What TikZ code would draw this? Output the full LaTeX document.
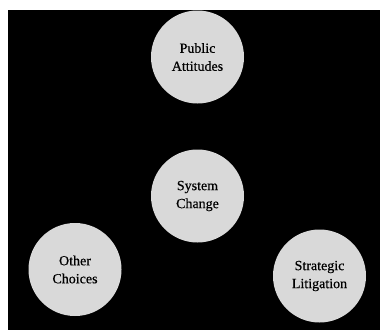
\documentclass[tikz,border=0pt]{standalone}
\usepackage{fontspec}
\setmainfont{Liberation Serif}
\newfontfamily\bubblefont[FakeBold=0.5]{Liberation Serif}
\begin{document}
\begin{tikzpicture}[x=1pt,y=-1pt,
  bubble/.style={circle, fill=black!15, minimum size=93pt, inner sep=0pt, align=center,
    font=\bubblefont\fontsize{14}{18}\selectfont, text=black}]
\useasboundingbox (0,0) rectangle (380,330);
\fill[black] (8,10) rectangle (380,330);
\node[bubble] (pa) at (197.5,57) {Public\\Attitudes};
\node[bubble] (sc) at (197.5,196) {System\\Change};
\node[bubble] (oc) at (75,269.5) {Other\\Choices};
\node[bubble] (sl) at (319.5,276) {Strategic\\Litigation};
\end{tikzpicture}
\end{document}
